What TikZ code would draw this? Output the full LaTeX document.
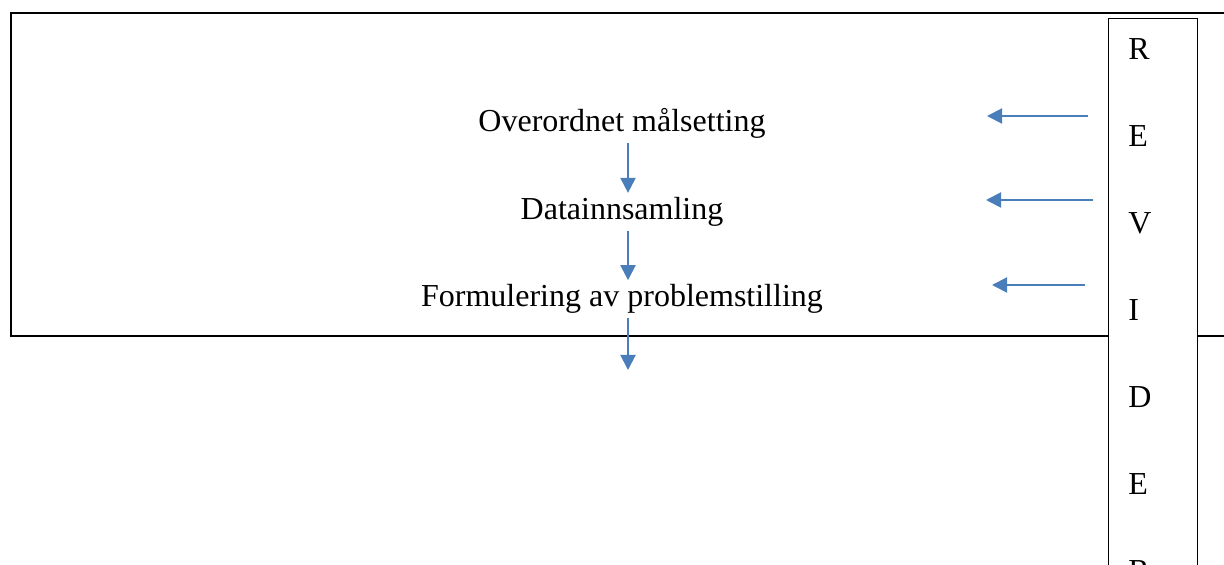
\documentclass[tikz,border=0pt]{standalone}
\usepackage{fontspec}
\setmainfont{Liberation Serif}
\usetikzlibrary{positioning,arrows.meta}
\definecolor{pilblue}{RGB}{74,126,187}

\begin{document}
\begin{tikzpicture}[x=0.5pt,y=-0.5pt,
    node distance=24.75pt,
    steg/.style={font=\fontsize{16}{19}\selectfont,
        text height=11pt, text depth=3.5pt, inner sep=2pt},
    bokstav/.style={font=\fontsize{16}{19}\selectfont,
        inner sep=0pt, anchor=west},
    pil/.style={-{Triangle[length=7.5pt,width=7.5pt]},
        draw=pilblue, line width=1pt}
    ]
\useasboundingbox (0,0) rectangle (1224,565);
\node [draw,
    line width=1pt,
    minimum width=620pt,
    minimum height=161.5pt,
    anchor=north west
    ] (ramme) at (10,12) {};
\node [draw,
    fill=white,
    line width=0.7pt,
    minimum width=44.5pt,
    minimum height=300pt,
    anchor=north west
    ] (revider) at (1108,18) {};
\foreach \b [count=\i from 0] in {R,E,V,I,D,E,R}
    \node [bokstav] (b\i) at (1128,{49+87*\i}) {\b};

\node [steg, anchor=base] (maal) at (622,132) {Overordnet målsetting};
\node [steg, below=of maal] (data) {Datainnsamling};
\node [steg, below=of data] (formulering) {Formulering av problemstilling};
\coordinate (videre) at (628,370);

\draw[pil] ([xshift=3pt]maal.south) -- ([xshift=3pt]data.north);
\draw[pil] ([xshift=3pt]data.south) -- ([xshift=3pt]formulering.north);
\draw[pil] ([xshift=3pt]formulering.south) -- (videre);

\foreach \y/\xa/\xb [count=\k] in {116/1088/987, 200/1093/986, 285/1085/992} {
    \coordinate (fra\k) at (\xa,\y);
    \coordinate (til\k) at (\xb,\y);
    \draw[pil] (fra\k) -- (til\k);
}
\end{tikzpicture}
\end{document}
